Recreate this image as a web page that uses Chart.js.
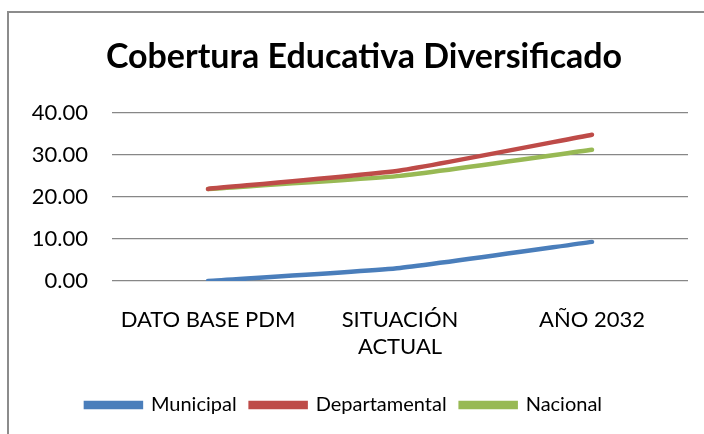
<!DOCTYPE html>
<html>
<head>
<meta charset="utf-8">
<script src="https://cdn.jsdelivr.net/npm/chart.js@4.4.0/dist/chart.umd.min.js"></script>
<style>
  html, body { margin: 0; padding: 0; background: #fff; }
  #frame { position: absolute; left: 7px; top: 11px; width: 720px; height: 450px; border: 2px solid #8c8c8c; }
  #wrap { position: absolute; left: 0; top: 0; width: 704px; height: 434px; }
</style>
</head>
<body>
<div id="frame"></div>
<div id="wrap"><canvas id="coberturaChart" width="704" height="434"></canvas></div>
<script>
var categories = ["DATO BASE PDM", ["SITUACIÓN", "ACTUAL"], "AÑO 2032"];
var municipal = [0.0, 3.1, 9.3];
var departamental = [21.9, 26.3, 34.8];
var nacional = [21.9, 25.0, 31.2];
var yTicks = [0, 10, 20, 30, 40];

var fontFamily = "Lato, 'Open Sans', sans-serif";

var coberturaData = {
  labels: categories,
  datasets: [
    { label: "Municipal", data: municipal, borderColor: "#4A7EBB", backgroundColor: "#4A7EBB" },
    { label: "Departamental", data: departamental, borderColor: "#BE4B48", backgroundColor: "#BE4B48" },
    { label: "Nacional", data: nacional, borderColor: "#98B954", backgroundColor: "#98B954" }
  ]
};

// title sits a bit right of the canvas centre in the original
var shiftTitle = {
  id: "shiftTitle",
  afterLayout: function(chart) {
    if (chart.titleBlock) chart.titleBlock.left += 40;
  }
};

var coberturaOptions = {
  responsive: false,
  animation: false,
  layout: { padding: { left: 0, right: 16, top: 0, bottom: 9 } },
  elements: {
    line: { borderWidth: 4.5, tension: 0.15, borderCapStyle: "round", fill: false },
    point: { radius: 0 }
  },
  plugins: {
    title: {
      display: true,
      text: "Cobertura Educativa Diversificado",
      color: "#000",
      font: { family: fontFamily, size: 34, weight: "bold" },
      padding: { top: 37, bottom: 35 }
    },
    legend: {
      position: "bottom",
      labels: {
        color: "#000",
        font: { family: fontFamily, size: 20 },
        boxWidth: 55,
        boxHeight: 4,
        padding: 14
      }
    },
    tooltip: { enabled: false }
  },
  scales: {
    x: {
      offset: true,
      grid: { display: false },
      border: { display: false },
      ticks: { color: "#000", font: { family: fontFamily, size: 22 }, padding: 18, maxRotation: 0, autoSkip: false },
      afterFit: function(scale) { scale.height = 100; }
    },
    y: {
      min: 0,
      max: 40,
      afterBuildTicks: function(scale) { scale.ticks = yTicks.map(function(v) { return { value: v }; }); },
      grid: { color: "#878787", lineWidth: 1.3, drawTicks: false },
      border: { display: false },
      ticks: {
        color: "#000",
        font: { family: fontFamily, size: 22 },
        padding: 24,
        callback: function(v) { return Number(v).toFixed(2); }
      },
      afterFit: function(scale) { scale.width = 112; }
    }
  }
};

var ctx = document.getElementById("coberturaChart").getContext("2d");
new Chart(ctx, { type: "line", data: coberturaData, options: coberturaOptions, plugins: [shiftTitle] });
</script>
</body>
</html>
